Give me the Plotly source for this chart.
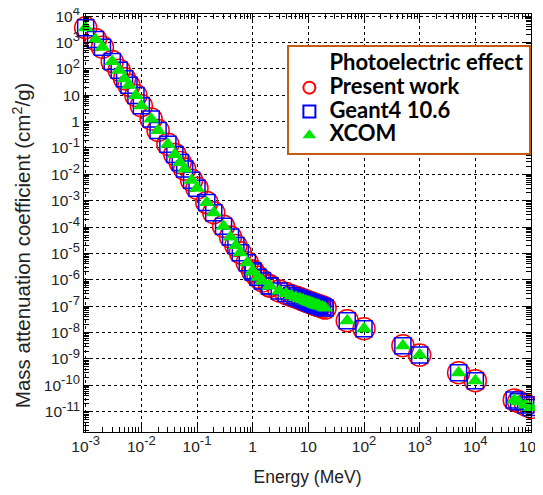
import plotly.graph_objects as go

# energies (MeV) and photoelectric mass attenuation coefficient (cm2/g)
energy = [1e-3, 1.5e-3, 2e-3, 3e-3, 4e-3, 5e-3, 6e-3, 8e-3,
          1e-2, 1.5e-2, 2e-2, 3e-2, 4e-2, 5e-2, 6e-2, 8e-2,
          0.1, 0.15, 0.2, 0.3, 0.4, 0.5, 0.6, 0.8,
          1.0, 1.022, 1.25, 1.5, 2.0, 2.044, 3.0, 4.0, 5.0, 6.0, 7.0, 8.0, 9.0,
          10.0, 11.0, 12.0, 13.0, 14.0, 15.0, 16.0, 18.0, 20.0,
          50.0, 100.0, 500.0, 1000.0, 5000.0, 1e4, 5e4, 6e4, 8e4, 1e5]

xcom = [3.6e3, 1.3e3, 6.6e2, 1.9e2, 8.9e1, 4.2e1, 2.4e1, 9.8e0,
        4.0e0, 1.26e0, 4.6e-1, 1.38e-1, 5.7e-2, 2.8e-2, 1.58e-2, 6.0e-3,
        3.0e-3, 8.5e-4, 3.5e-4, 1.07e-4, 4.2e-5, 2.0e-5, 1.07e-5, 4.4e-6,
        2.2e-6, 2.0e-6, 1.26e-6, 9.1e-7, 6.0e-7, 5.8e-7, 3.8e-7, 3.0e-7, 2.5e-7, 2.2e-7, 1.95e-7, 1.74e-7, 1.58e-7,
        1.45e-7, 1.35e-7, 1.26e-7, 1.17e-7, 1.12e-7, 1.07e-7, 1.02e-7, 9.3e-8, 8.5e-8,
        2.8e-8, 1.4e-8, 3.2e-9, 1.4e-9, 3.0e-10, 1.5e-10, 2.8e-11, 2.4e-11, 1.8e-11, 1.45e-11]

geant4 = list(xcom)
present_work = list(xcom)

# exponent labels, superscript drawn a bit larger like the original
def sup(p):
    return '10<sup><span style="font-size:13px">' + p + '</span></sup>'

x_tickvals = [1e-3, 1e-2, 1e-1, 1, 10, 1e2, 1e3, 1e4, 1e5]
x_ticktext = [sup('-3'), sup('-2'), sup('-1'), '1', '10',
              sup('2'), sup('3'), sup('4'), sup('5')]
y_tickvals = [1e4, 1e3, 1e2, 10, 1, 1e-1, 1e-2, 1e-3, 1e-4, 1e-5, 1e-6,
              1e-7, 1e-8, 1e-9, 1e-10, 1e-11]
y_ticktext = [sup('4'), sup('3'), sup('2'), '10', '1',
              sup('-1'), sup('-2'), sup('-3'), sup('-4'), sup('-5'), sup('-6'),
              sup('-7'), sup('-8'), sup('-9'), sup('-10'), sup('-11')]

# minor ticks at 2..9 of every decade
x_minor = [m * 10.0 ** p for p in range(-3, 5) for m in range(2, 10)]
y_minor = [m * 10.0 ** p for p in range(-12, 4) for m in range(2, 10)]

# legend names, drawn bigger than the legend font so rows stay tight
def big(txt):
    return '<span style="font-size:22px">' + txt + '</span>'

fig = go.Figure()

# invisible entry used as the legend heading
fig.add_trace(go.Scatter(
    x=[None], y=[None], mode='markers',
    marker=dict(size=1, color='rgba(0,0,0,0)'),
    name=big('Photoelectric effect')
))
fig.add_trace(go.Scatter(
    x=energy, y=present_work, mode='markers', name=big('Present work'),
    cliponaxis=False,
    marker=dict(symbol='circle-open', size=22, color='#ff0000',
                line=dict(width=1.5, color='#ff0000'))
))
fig.add_trace(go.Scatter(
    x=energy, y=geant4, mode='markers', name=big('Geant4 10.6'),
    cliponaxis=False,
    marker=dict(symbol='square-open', size=16, color='#0000ff',
                line=dict(width=1.5, color='#0000ff'))
))
fig.add_trace(go.Scatter(
    x=energy, y=xcom, mode='markers', name=big('XCOM'),
    cliponaxis=False,
    marker=dict(symbol='triangle-up', size=14, color='#00e600',
                line=dict(width=0))
))

axis_common = dict(
    type='log', automargin=False,
    showline=True, linecolor='black', linewidth=1,
    mirror='allticks',
    ticks='inside', ticklen=9, tickcolor='black', tickwidth=1,
    showgrid=True, gridcolor='black', griddash='dot', gridwidth=1,
    zeroline=False, ticklabeloverflow='allow',
    tickfont=dict(family='Liberation Sans, Arial', size=15.5, color='#222222'),
)

fig.update_xaxes(
    range=[-3.03, 5.0],
    tickmode='array', tickvals=x_tickvals, ticktext=x_ticktext,
    minor=dict(tickmode='array', tickvals=x_minor, ticks='inside',
               ticklen=5, tickcolor='black', showgrid=False),
    title=dict(text='Energy (MeV)', standoff=17,
               font=dict(family='Liberation Sans, Arial', size=17.5, color='#222222')),
    **axis_common
)
fig.update_yaxes(
    range=[-11.77, 4.08],
    tickmode='array', tickvals=y_tickvals, ticktext=y_ticktext,
    minor=dict(tickmode='array', tickvals=y_minor, ticks='inside',
               ticklen=5, tickcolor='black', showgrid=False),
    **axis_common
)

# y title as a rotated annotation (sits a bit below the axis centre in the original)
fig.add_annotation(
    text='Mass attenuation coefficient (cm<sup>2</sup>/g)',
    xref='paper', yref='paper', x=0, y=0.447,
    xanchor='center', yanchor='middle', xshift=-62,
    textangle=-90, showarrow=False,
    font=dict(family='Liberation Sans, Arial', size=20.5, color='#222222'),
)

# page body adds an 8px offset, so the figure is drawn 8px smaller with tighter left/top margins
fig.update_layout(
    template='none',
    width=535, height=487,
    margin=dict(l=76, r=12, t=6, b=63),
    plot_bgcolor='white', paper_bgcolor='white',
    legend=dict(
        x=0.455, y=0.926, xanchor='left', yanchor='top',
        bgcolor='white', bordercolor='#c55a11', borderwidth=2,
        font=dict(family='Lato', size=16, color='black', weight='bold'),
        itemsizing='constant', tracegroupgap=0,
    ),
    showlegend=True,
)

fig.write_html('out.html')
